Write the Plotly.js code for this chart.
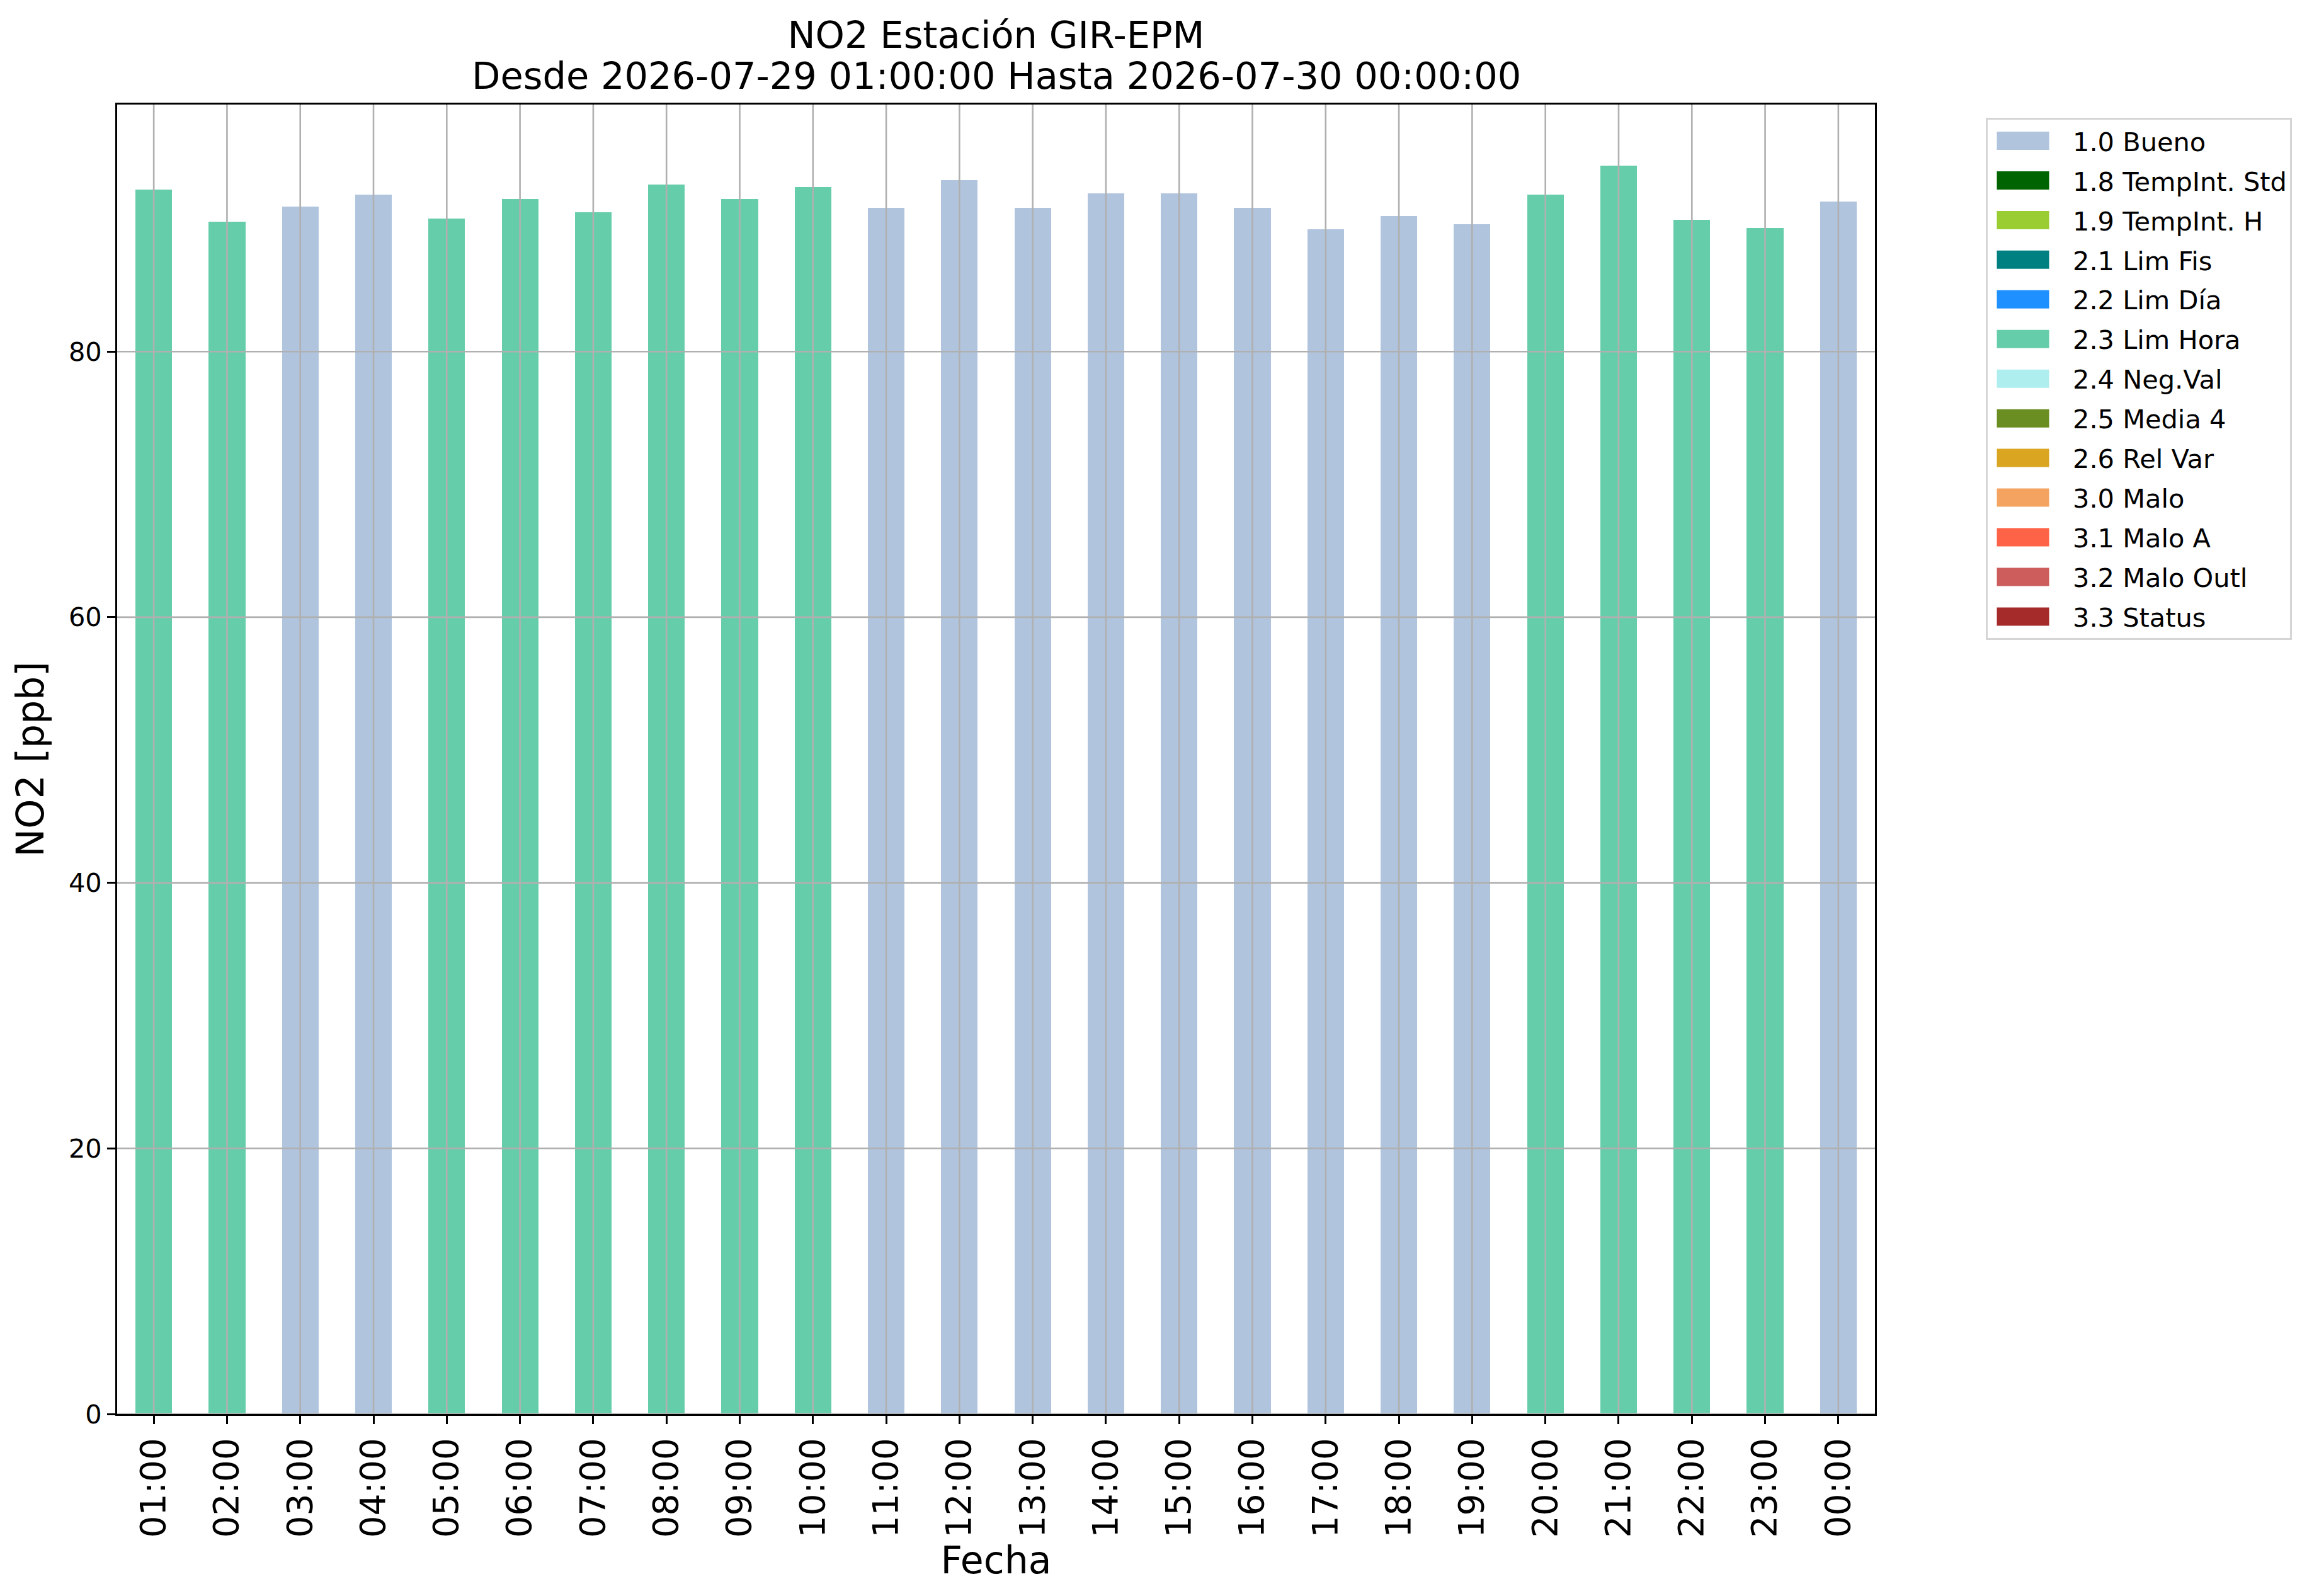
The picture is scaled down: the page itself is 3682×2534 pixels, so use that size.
<!DOCTYPE html>
<html>
<head>
<meta charset="utf-8">
<script src="https://cdn.plot.ly/plotly-3.0.1.min.js"></script>
<style>
  html, body { margin: 0; padding: 0; background: #fff; }
  #myPlot { width: 3682px; height: 2534px; }
</style>
</head>
<body>
<div id="myPlot"></div>
<script>
// hourly NO2 values and the quality flag of each hour
var hours = ['01:00', '02:00', '03:00', '04:00', '05:00', '06:00', '07:00', '08:00',
             '09:00', '10:00', '11:00', '12:00', '13:00', '14:00', '15:00', '16:00',
             '17:00', '18:00', '19:00', '20:00', '21:00', '22:00', '23:00', '00:00'];
var no2 = [92.2, 89.8, 90.9, 91.8, 90.0, 91.5, 90.5, 92.6,
           91.5, 92.4, 90.8, 92.9, 90.8, 91.9, 91.9, 90.8,
           89.2, 90.2, 89.6, 91.8, 94.0, 89.9, 89.3, 91.3];
var hourFlags = ['2.3', '2.3', '1.0', '1.0', '2.3', '2.3', '2.3', '2.3',
                 '2.3', '2.3', '1.0', '1.0', '1.0', '1.0', '1.0', '1.0',
                 '1.0', '1.0', '1.0', '2.3', '2.3', '2.3', '2.3', '1.0'];

// flag codes, legend names and colours
var flagCodes = ['1.0', '1.8', '1.9', '2.1', '2.2', '2.3', '2.4', '2.5', '2.6', '3.0', '3.1', '3.2', '3.3'];
var flagNames = ['1.0 Bueno', '1.8 TempInt. Std', '1.9 TempInt. H', '2.1 Lim Fis', '2.2 Lim Día',
                 '2.3 Lim Hora', '2.4 Neg.Val', '2.5 Media 4', '2.6 Rel Var', '3.0 Malo',
                 '3.1 Malo A', '3.2 Malo Outl', '3.3 Status'];
var flagColors = ['#b0c4de', '#006400', '#9acd32', '#008080', '#1e90ff', '#66cdaa', '#afeeee',
                  '#6b8e23', '#daa520', '#f4a460', '#ff6347', '#cd5c5c', '#a52a2a'];

var yTicks = [0, 20, 40, 60, 80];

var titleLine1 = 'NO2 Estación GIR-EPM';
var titleLine2 = 'Desde 2026-07-29 01:00:00 Hasta 2026-07-30 00:00:00';

var font = 'DejaVu Sans, Liberation Sans, sans-serif';

// one stacked trace per flag, like the pandas plot
var traces = flagCodes.map(function (code, k) {
    return {
        type: 'bar',
        name: flagNames[k],
        legendgroup: code,
        x: hours,
        y: no2.map(function (v, i) { return hourFlags[i] === code ? v : 0; }),
        marker: { color: flagColors[k], line: { width: 0 } },
        hoverinfo: 'x+y+name'
    };
});

// grid drawn above the bars, as matplotlib does here
var gridStyle = { color: '#b0b0b0', width: 2.6 };
var shapes = [];
hours.forEach(function (h) {
    shapes.push({ type: 'line', layer: 'above', xref: 'x', yref: 'paper',
                  x0: h, x1: h, y0: 0, y1: 1, line: gridStyle });
});
yTicks.forEach(function (t) {
    shapes.push({ type: 'line', layer: 'above', xref: 'paper', yref: 'y',
                  x0: 0, x1: 1, y0: t, y1: t, line: gridStyle });
});

var layout = {
    width: 3682,
    height: 2534,
    margin: { l: 186, r: 705, t: 166, b: 289, pad: 0 },
    paper_bgcolor: '#fff',
    plot_bgcolor: '#fff',
    font: { family: font, color: '#000' },
    barmode: 'stack',
    bargap: 0.5,
    title: {
        text: titleLine1,
        font: { family: font, size: 59, color: '#000' },
        x: 0.5, xref: 'paper', xanchor: 'center',
        y: 1 - 55 / 2534, yref: 'container', yanchor: 'middle'
    },
    // second title line, closer to the first than plotly's line spacing
    annotations: [{
        text: titleLine2,
        font: { family: font, size: 59, color: '#000' },
        showarrow: false,
        xref: 'paper', x: 0.5, xanchor: 'center',
        yref: 'paper', y: (2245 - 121) / 2079, yanchor: 'middle'
    }],
    xaxis: {
        type: 'category',
        range: [-0.5, 23.5],
        showgrid: false,
        showline: true, linecolor: '#000', linewidth: 3, mirror: true,
        ticks: 'outside', ticklen: 13, tickwidth: 3, tickcolor: '#000',
        tickangle: -90,
        tickfont: { family: font, size: 55, color: '#000' },
        title: { text: 'Fecha', font: { family: font, size: 60, color: '#000' }, standoff: 8 },
        automargin: false,
        zeroline: false
    },
    yaxis: {
        range: [0, 98.6],
        tickvals: yTicks,
        showgrid: false,
        showline: true, linecolor: '#000', linewidth: 3, mirror: true,
        ticks: 'outside', ticklen: 13, tickwidth: 3, tickcolor: '#000',
        tickfont: { family: font, size: 41.5, color: '#000' },
        title: { text: 'NO2 [ppb]', font: { family: font, size: 60, color: '#000' }, standoff: 20 },
        automargin: false,
        zeroline: false
    },
    shapes: shapes,
    showlegend: true,
    legend: {
        x: (3153 - 186) / 2791, xanchor: 'left',
        y: (2245 - 187) / 2079, yanchor: 'top',
        bgcolor: '#fff',
        bordercolor: '#d5d5d5',
        borderwidth: 3,
        font: { family: font, size: 41.5, color: '#000' },
        itemwidth: 125,
        traceorder: 'grouped',
        tracegroupgap: 6
    }
};

Plotly.newPlot('myPlot', traces, layout, { displayModeBar: false, staticPlot: true }).then(function () {
    // widen the legend swatches to matplotlib's long patches
    document.querySelectorAll('.legend .legendpoints path').forEach(function (p) {
        p.setAttribute('d', 'M41.5,14.5H-41.5V-14.5H41.5Z');
        p.setAttribute('transform', 'translate(56,0)');
    });
});
</script>
</body>
</html>
